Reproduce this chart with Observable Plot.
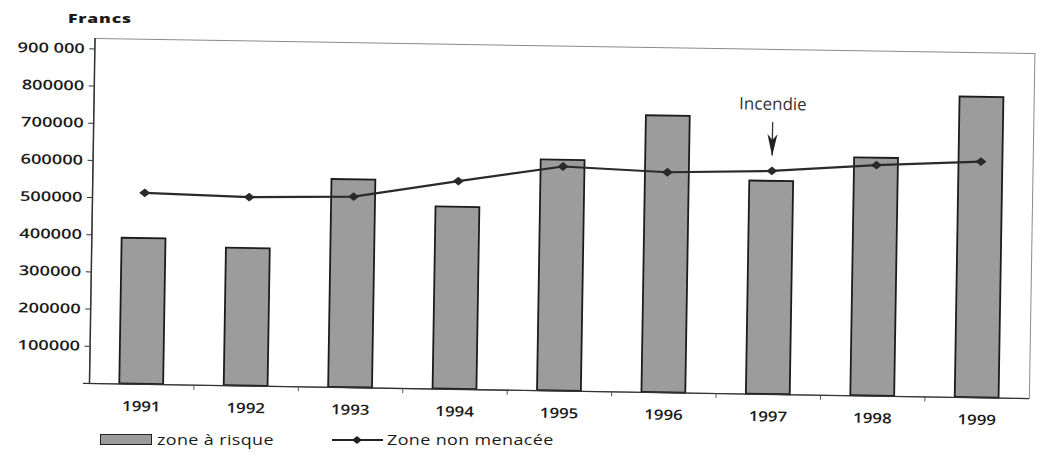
<!DOCTYPE html>
<html><head><meta charset="utf-8">
<script src="https://cdn.jsdelivr.net/npm/d3@7"></script>
<script src="https://cdn.jsdelivr.net/npm/@observablehq/plot@0.6"></script>
<style>
html,body{margin:0;padding:0;background:#fff;}
#wrap{position:relative;width:1041px;height:456px;overflow:hidden;font-family:"Open Sans",sans-serif;color:#1a1a1a;}
#francs{position:absolute;left:68px;top:8px;font-weight:800;font-size:13px;letter-spacing:0.6px;line-height:20px;transform:scaleX(1.35);transform-origin:0 50%;}
#chart{position:absolute;left:0;top:28px;}
#chart svg{transform:rotate(0.92deg);transform-origin:91px 355px;overflow:visible;}
.lt{position:absolute;top:430px;font-size:14px;font-weight:500;letter-spacing:0.3px;line-height:20px;transform:scaleX(1.28);transform-origin:0 50%;white-space:nowrap;}
#sw1{position:absolute;left:100px;top:434px;width:52px;height:11px;box-sizing:border-box;background:#9c9c9c;border:1.5px solid #222;}
#sw2{position:absolute;left:330px;top:432px;}
</style></head>
<body>
<div id="wrap">
  <div id="francs">Francs</div>
  <div id="chart"></div>
  <div id="sw1"></div>
  <div class="lt" style="left:157px">zone à risque</div>
  <svg id="sw2" width="56" height="16"><line x1="2" y1="8" x2="53" y2="8" stroke="#222" stroke-width="2"/><path d="M22,8L27,4L32,8L27,12Z" fill="#222"/></svg>
  <div class="lt" style="left:387px">Zone non menacée</div>
</div>
<script>
const years = [1991, 1992, 1993, 1994, 1995, 1996, 1997, 1998, 1999];
const zoneRisque = [392000, 370000, 559000, 490000, 621000, 744000, 573000, 640000, 808000];
const zoneNonMenacee = [515000, 508000, 514000, 560000, 604000, 593000, 601000, 621000, 635000];
const yTicks = [100000, 200000, 300000, 400000, 500000, 600000, 700000, 800000, 900000];
const yTickLabels = ["100000", "200000", "300000", "400000", "500000", "600000", "700000", "800000", "900 000"];
const annotYears = [1997];
const annotLabels = ["Incendie"];
const annotLabelValues = [780000];
const annotArrowTop = [731000];
const annotArrowTip = [641000];

const data = years.map((y, i) => ({year: y, risque: zoneRisque[i], nonMenacee: zoneNonMenacee[i]}));
const annot = annotYears.map((y, i) => ({year: y, label: annotLabels[i], labelY: annotLabelValues[i], arrowTop: annotArrowTop[i], arrowTip: annotArrowTip[i]}));
const bounds = years.slice(1).map(y => y - 0.5);

const diamond = {draw(ctx, size) {
  const r = Math.sqrt(size / Math.PI);
  ctx.moveTo(-r, 0); ctx.lineTo(0, -r * 0.8); ctx.lineTo(r, 0); ctx.lineTo(0, r * 0.8); ctx.closePath();
}};
const head = {draw(ctx, size) {
  const r = Math.sqrt(size / Math.PI);
  ctx.moveTo(0, 0); ctx.lineTo(-r * 0.5, -r * 2.2); ctx.lineTo(0, -r * 1.6); ctx.lineTo(r * 0.5, -r * 2.2); ctx.closePath();
}};

const chart = Plot.plot({
  width: 1041, height: 400,
  marginLeft: 89, marginRight: 12, marginTop: 10, marginBottom: 45,
  x: {domain: [1990.5, 1999.5]},
  y: {domain: [0, 928000]},
  style: {fontFamily: "Open Sans", background: "transparent", color: "#1a1a1a"},
  marks: [
    Plot.frame({stroke: "#8a8a8a", strokeWidth: 1}),
    Plot.rectY(data, {x1: d => d.year - 0.21, x2: d => d.year + 0.21, y: "risque", fill: "#9c9c9c", stroke: "#1c1c1c", strokeWidth: 1.8}),
    Plot.ruleX([1990.5], {stroke: "#333", strokeWidth: 1.5}),
    Plot.ruleY([0], {stroke: "#333", strokeWidth: 1.3, insetLeft: -6}),
    Plot.axisY({ticks: yTicks, tickFormat: d => yTickLabels[yTicks.indexOf(d)], tickSize: 5, tickPadding: 5, fontSize: 13.5, fontWeight: 600, stroke: "#333", label: null}),
    Plot.axisX({ticks: bounds, tickSize: 5, tickFormat: () => "", stroke: "#555", label: null}),
    Plot.axisX({ticks: years, tickSize: 0, tickPadding: 17, tickFormat: d => String(d), fontSize: 14, fontWeight: 600, label: null}),
    Plot.line(data, {x: "year", y: "nonMenacee", stroke: "#2a2a2a", strokeWidth: 2.2}),
    Plot.dot(data, {x: "year", y: "nonMenacee", symbol: diamond, r: 5.5, fill: "#2a2a2a"}),
    Plot.ruleX(annot, {x: "year", y1: "arrowTop", y2: "arrowTip", stroke: "#333", strokeWidth: 1.3}),
    Plot.dot(annot, {x: "year", y: "arrowTip", symbol: head, r: 10, fill: "#222"}),
    Plot.text(annot, {x: "year", y: "labelY", text: "label", fontSize: 17, fill: "#333"})
  ]
});
document.getElementById("chart").appendChild(chart);
function stretch(sel, s) {
  chart.querySelectorAll(sel).forEach(el => {
    const L = el.getComputedTextLength();
    if (L > 0) {
      el.setAttribute("textLength", L * s);
      el.setAttribute("lengthAdjust", "spacingAndGlyphs");
    }
  });
}
stretch('g[aria-label="y-axis tick label"] text', 1.35);
stretch('g[aria-label="x-axis tick label"] text', 1.2);
</script>
</body></html>
